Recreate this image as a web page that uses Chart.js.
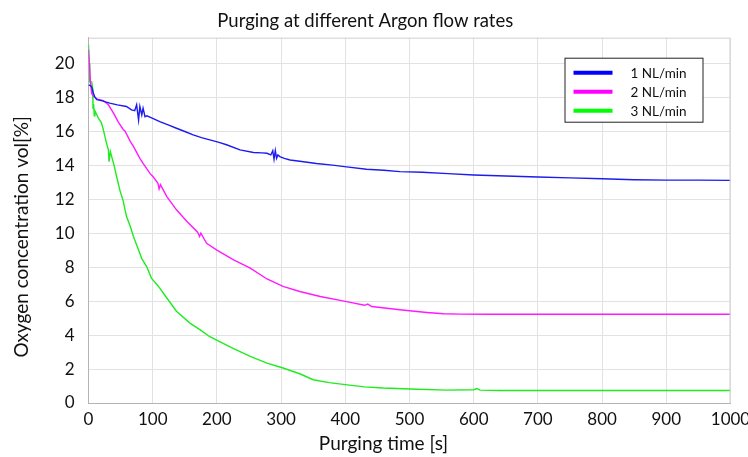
<!DOCTYPE html>
<html>
<head>
<meta charset="utf-8">
<script src="https://cdn.jsdelivr.net/npm/chart.js@4/dist/chart.umd.min.js"></script>
<style>
html,body{margin:0;padding:0;background:#fff}
#wrap{width:748px;height:457px}
</style>
</head>
<body>
<div id="wrap"><canvas id="c" width="748" height="457"></canvas></div>
<script>
'use strict';
const labels=['1 NL/min','2 NL/min','3 NL/min'];
const colors=['#1c1cf0','#ff1aff','#1fec1f'];
const legendColors=['#0000ff','#ff00ff','#00ff00'];
const xTitle='Purging time [s]';
const yTitle='Oxygen concentration vol[%]';

const blueT=[0,2,5,7,10,13,20,33,45,59,67,72,75,78,80,83,85,88,91,100,111,125,137,150,163,176,189,202,215,236,257,270,278,284,287,289,291,293,295,298,305,314,335,355,380,402,433,460,485,520,560,600,650,700,750,800,850,900,950,1000];
const blueV=[18.7,18.7,18.6,18.3,18.0,17.85,17.8,17.65,17.55,17.45,17.25,17.2,17.55,16.65,17.45,16.95,17.35,16.85,16.9,16.75,16.56,16.35,16.17,15.98,15.78,15.62,15.49,15.35,15.2,14.9,14.74,14.72,14.7,14.6,14.85,14.35,14.86,14.4,14.6,14.5,14.4,14.3,14.2,14.1,14.0,13.9,13.76,13.7,13.62,13.58,13.5,13.42,13.36,13.3,13.25,13.2,13.14,13.12,13.12,13.1];

const magT=[0,1,3,5,8,13,23,31,39,46,54,57,65,70,80,85,96,101,108,110,112,122,137,153,170,173,175,184,200,226,252,278,303,329,361,400,430,435,441,485,527,553,580,620,700,800,900,1000];
const magV=[20.8,20.2,18.9,18.2,18.05,17.9,17.8,17.55,17.06,16.56,16.1,16.0,15.4,15.1,14.4,14.1,13.5,13.3,12.95,12.6,12.85,12.15,11.37,10.7,10.05,9.8,10.0,9.4,9.0,8.43,7.94,7.3,6.86,6.56,6.27,5.98,5.75,5.82,5.68,5.49,5.33,5.25,5.23,5.22,5.22,5.22,5.22,5.22];

const greenT=[0,1,2,5,6.5,7,8,9,10,15,20,23,28,31,32,34,39,44,49,54,59,65,70,78,83,91,98,109,122,137,158,174,189,205,226,252,278,303,329,350,375,400,430,459,501,558,600,605,610,641,700,800,900,1000];
const greenV=[21.1,20.0,18.9,18.9,18.5,17.3,17.6,16.9,17.2,16.8,16.5,16.1,15.3,14.9,14.2,14.8,14.1,13.3,12.5,11.9,11.0,10.4,9.8,9.0,8.5,8.0,7.35,6.86,6.18,5.4,4.7,4.3,3.9,3.6,3.2,2.75,2.35,2.06,1.72,1.37,1.2,1.08,0.95,0.88,0.82,0.76,0.78,0.85,0.76,0.74,0.74,0.74,0.74,0.74];

const xTicks=[0,100,200,300,400,500,600,700,800,900,1000];
const yTicks=[0,2,4,6,8,10,12,14,16,18,20];

const pts=(ts,vs)=>ts.map((t,i)=>({x:t,y:vs[i]}));
const series=[pts(blueT,blueV),pts(magT,magV),pts(greenT,greenV)];
const FONT='Lato';

// frame, axis titles (offset like the original) and the boxed legend
const boxPlugin={
  id:'boxLegend',
  afterDraw(chart){
    const ctx=chart.ctx,a=chart.chartArea;
    ctx.save();
    ctx.strokeStyle='#cfcfcf';ctx.lineWidth=1;
    ctx.beginPath();
    ctx.moveTo(a.left,a.top+0.5);ctx.lineTo(a.right-0.5,a.top+0.5);ctx.lineTo(a.right-0.5,a.bottom);
    ctx.stroke();
    ctx.fillStyle='#111';ctx.font='19px '+FONT;ctx.textAlign='center';ctx.textBaseline='alphabetic';
    ctx.fillText(xTitle,(a.left+a.right)/2-26,a.bottom+47);
    ctx.save();
    ctx.translate(a.left-60.5,(a.top+a.bottom)/2+16.5);ctx.rotate(-Math.PI/2);
    ctx.fillText(yTitle,0,0);
    ctx.restore();
    const bx=a.right-166,by=a.top+20.5,bw=138,bh=64;
    ctx.fillStyle='#fff';ctx.fillRect(bx,by,bw,bh);
    ctx.strokeStyle='#222';ctx.strokeRect(bx+0.5,by,bw,bh);
    ctx.font='13.5px '+FONT;ctx.textAlign='left';ctx.textBaseline='middle';ctx.fillStyle='#111';
    chart.data.datasets.forEach((d,i)=>{
      const y=by+14.5+i*19;
      ctx.strokeStyle=legendColors[i];ctx.lineWidth=4;
      ctx.beginPath();ctx.moveTo(bx+9,y);ctx.lineTo(bx+48,y);ctx.stroke();
      ctx.fillText(d.label,bx+66,y+0.5);
    });
    ctx.restore();
  }
};

new Chart(document.getElementById('c'),{
  type:'line',
  data:{datasets:series.map((s,i)=>({label:labels[i],data:s,borderColor:colors[i],borderWidth:1.4,pointRadius:0,tension:0,fill:false}))},
  options:{
    responsive:false,animation:false,
    layout:{padding:{left:0,right:17.5,top:0,bottom:0}},
    plugins:{
      legend:{display:false},tooltip:{enabled:false},
      title:{display:true,text:'Purging at different Argon flow rates',color:'#111',
        font:{family:FONT,size:18.5,weight:'normal'},padding:{top:10,bottom:5.5}}
    },
    scales:{
      x:{type:'linear',min:0,max:1000,
        afterBuildTicks:s=>{s.ticks=xTicks.map(v=>({value:v}));},
        afterFit:s=>{s.height=54;s.paddingRight=17.5;s.paddingLeft=0;},
        grid:{color:'#e2e2e2',drawTicks:false},
        border:{color:'#b4b4b4'},
        ticks:{color:'#111',padding:6,font:{family:FONT,size:17},maxRotation:0,callback:v=>String(v)}
      },
      y:{type:'linear',min:0,max:21.5,
        afterBuildTicks:s=>{s.ticks=yTicks.map(v=>({value:v}));},
        afterFit:s=>{s.width=88.5;},
        grid:{color:'#e2e2e2',drawTicks:false},
        border:{color:'#b4b4b4'},
        ticks:{color:'#111',padding:14,font:{family:FONT,size:17},callback:v=>String(v)}
      }
    }
  },
  plugins:[boxPlugin]
});
</script>
</body>
</html>
